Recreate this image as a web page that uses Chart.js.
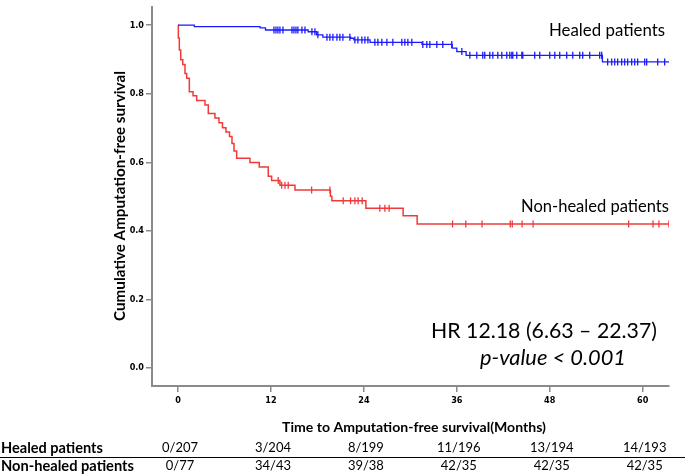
<!DOCTYPE html>
<html>
<head>
<meta charset="utf-8">
<script src="https://cdn.jsdelivr.net/npm/chart.js@4"></script>
<style>
  html, body { margin: 0; padding: 0; background: #fff; }
  #wrap { width: 685px; height: 476px; }
</style>
</head>
<body>
<div id="wrap"><canvas id="km" width="685" height="476"></canvas></div>
<script>
// Kaplan-Meier steps: [month, survival after the drop]
const healedSteps = [[0, 1.0], [2.1, 0.996], [10.6, 0.992], [11.3, 0.986], [16.8, 0.981], [17.9, 0.972],
  [18.7, 0.965], [22.3, 0.962], [22.7, 0.957], [24.8, 0.950], [31.5, 0.944], [35.4, 0.933],
  [36.0, 0.923], [37.2, 0.912], [54.8, 0.893], [63.4, 0.893]];
const nonHealedSteps = [[0, 1.0], [0.04, 0.963], [0.17, 0.928], [0.35, 0.899], [0.61, 0.885], [0.9, 0.859],
  [1.12, 0.845], [1.46, 0.806], [1.94, 0.794], [2.41, 0.78], [3.48, 0.767], [3.91, 0.742],
  [4.77, 0.729], [5.29, 0.715], [5.74, 0.701], [6.19, 0.688], [6.65, 0.675], [6.97, 0.655],
  [7.23, 0.633], [7.57, 0.612], [9.29, 0.599], [10.49, 0.586], [11.65, 0.559], [12.09, 0.547],
  [13.16, 0.533], [15.1, 0.519], [19.68, 0.501], [19.87, 0.488], [24.26, 0.466], [29.07, 0.444],
  [30.88, 0.42], [63.4, 0.42]];

// censored observations (months)
const healedCensored = [12.39, 12.65, 12.9, 13.16, 13.55, 14.71, 14.97, 15.23, 15.48, 16.0, 16.39, 17.29,
  17.68, 18.06, 19.23, 19.61, 20.0, 20.52, 20.9, 21.29, 22.19, 22.84, 23.23, 23.74, 24.13, 24.52,
  25.42, 25.81, 26.32, 26.97, 27.74, 28.9, 29.29, 29.68, 30.19, 31.61, 32.13, 32.52, 33.42, 34.19,
  35.35, 36.65, 37.68, 38.58, 39.35, 39.61, 40.26, 40.65, 41.29, 41.81, 42.45, 42.84, 43.1, 43.23,
  43.74, 44.39, 44.52, 46.06, 46.71, 48.0, 48.65, 49.29, 50.19, 50.97, 51.87, 52.26, 53.16, 54.45,
  54.71, 55.48, 56.0, 56.39, 56.77, 57.29, 57.68, 58.06, 58.58, 58.97, 59.35, 60.26, 60.52, 61.94, 62.84];
const nonHealedCensored = [12.94, 13.38, 13.81, 14.23, 17.25, 19.61, 21.33, 22.28, 22.84, 23.26, 23.78,
  26.06, 26.71, 27.26, 35.45, 37.16, 39.26, 42.9, 43.16, 44.43, 45.85, 58.19, 61.33, 62.1, 63.39];

const xTicks = [0, 12, 24, 36, 48, 60];
const yTicks = [0, 0.2, 0.4, 0.6, 0.8, 1.0];
const healedAtRisk = ['0/207', '3/204', '8/199', '11/196', '13/194', '14/193'];
const nonHealedAtRisk = ['0/77', '34/43', '39/38', '42/35', '42/35', '42/35'];

const BLUE = '#1a1aff';
const RED = '#f03a3a';
const AXIS = '#8a8a8a';
const TEXTFONT = 'Lato, "Open Sans", sans-serif';

// survival value at time t (step lookup)
function survAt(steps, t) {
  let v = steps[0][1];
  for (const s of steps) {
    if (s[0] <= t) v = s[1];
  }
  return v;
}

const toPts = steps => steps.map(s => ({ x: s[0], y: s[1] }));
const censPts = (steps, times) => times.map(t => ({ x: t, y: survAt(steps, t) }));

// pick a font size so the text takes the given width
function fitFont(ctx, text, style, width) {
  ctx.font = style + ' 20px ' + TEXTFONT;
  const size = 20 * width / ctx.measureText(text).width;
  ctx.font = style + ' ' + size.toFixed(2) + 'px ' + TEXTFONT;
}

// draws annotations + at-risk table
const extrasPlugin = {
  id: 'extras',
  afterDraw(chart) {
    const ctx = chart.ctx;
    const xs = chart.scales.x;
    ctx.save();
    ctx.fillStyle = '#000';
    ctx.textBaseline = 'middle';

    // y axis title
    const yTitle = 'Cumulative Amputation-free survival';
    ctx.save();
    ctx.translate(120, 196);
    ctx.rotate(-Math.PI / 2);
    ctx.textAlign = 'center';
    fitFont(ctx, yTitle, 'bold', 250);
    ctx.fillText(yTitle, 0, 0);
    ctx.restore();

    // curve labels
    ctx.textAlign = 'center';
    fitFont(ctx, 'Healed patients', 'normal', 116);
    ctx.fillText('Healed patients', 607, 31);
    fitFont(ctx, 'Non-healed patients', 'normal', 148);
    ctx.fillText('Non-healed patients', 595, 207);

    const hr = 'HR 12.18 (6.63 \u2013 22.37)';
    fitFont(ctx, hr, 'normal', 226);
    ctx.fillText(hr, 544, 331);
    fitFont(ctx, 'p-value < 0.001', 'italic', 146);
    ctx.fillText('p-value < 0.001', 553, 358);

    // x axis title
    const xTitle = 'Time to Amputation-free survival(Months)';
    fitFont(ctx, xTitle, 'bold', 264);
    ctx.fillText(xTitle, 414, 427);

    // at-risk table
    ctx.textAlign = 'left';
    fitFont(ctx, 'Healed patients', 'bold', 102);
    ctx.fillText('Healed patients', 1, 448);
    fitFont(ctx, 'Non-healed patients', 'bold', 133);
    ctx.fillText('Non-healed patients', 1, 466);
    ctx.textAlign = 'center';
    fitFont(ctx, '0/207', 'normal', 36);
    xTicks.forEach((t, i) => {
      const px = xs.getPixelForValue(t);
      ctx.fillText(healedAtRisk[i], px + 2, 448);
      ctx.fillText(nonHealedAtRisk[i], px + 2, 466);
    });
    ctx.strokeStyle = '#000';
    ctx.lineWidth = 1.2;
    ctx.beginPath();
    ctx.moveTo(0, 457.5);
    ctx.lineTo(685, 457.5);
    ctx.stroke();
    ctx.restore();
  }
};

const tickFont = { family: '"Liberation Sans Narrow", "DejaVu Sans Condensed", sans-serif', size: 9, weight: 'bold' };

new Chart(document.getElementById('km'), {
  type: 'line',
  data: {
    datasets: [
      { data: toPts(healedSteps), borderColor: BLUE, borderWidth: 1.3, stepped: 'before', pointRadius: 0, fill: false },
      { data: toPts(nonHealedSteps), borderColor: RED, borderWidth: 1.5, stepped: 'before', pointRadius: 0, fill: false },
      { data: censPts(healedSteps, healedCensored), showLine: false, pointStyle: 'line', rotation: 90,
        pointRadius: 3.5, borderColor: BLUE, borderWidth: 1.3 },
      { data: censPts(nonHealedSteps, nonHealedCensored), showLine: false, pointStyle: 'line', rotation: 90,
        pointRadius: 3.5, borderColor: RED, borderWidth: 1.3 }
    ]
  },
  options: {
    responsive: false,
    animation: false,
    layout: { padding: { top: 2, right: 16, left: 0, bottom: 0 } },
    plugins: { legend: { display: false }, tooltip: { enabled: false } },
    scales: {
      x: {
        type: 'linear',
        min: -3.36,
        max: 63.4,
        afterBuildTicks: s => { s.ticks = xTicks.map(v => ({ value: v })); },
        afterFit: s => { s.height = 90; },
        grid: { drawOnChartArea: false, drawTicks: true, tickLength: 6, color: AXIS, lineWidth: 1.5 },
        border: { color: AXIS, width: 2 },
        ticks: { font: tickFont, color: '#000', padding: 3, maxRotation: 0 }
      },
      y: {
        type: 'linear',
        min: -0.053,
        max: 1.052,
        afterBuildTicks: s => { s.ticks = yTicks.map(v => ({ value: v })); },
        afterFit: s => { s.width = 152; },
        grid: { drawOnChartArea: false, drawTicks: true, tickLength: 6, color: AXIS, lineWidth: 1.5 },
        border: { color: AXIS, width: 2 },
        ticks: { font: tickFont, color: '#000', padding: 2, callback: v => v.toFixed(1) }
      }
    }
  },
  plugins: [extrasPlugin]
});
</script>
</body>
</html>
